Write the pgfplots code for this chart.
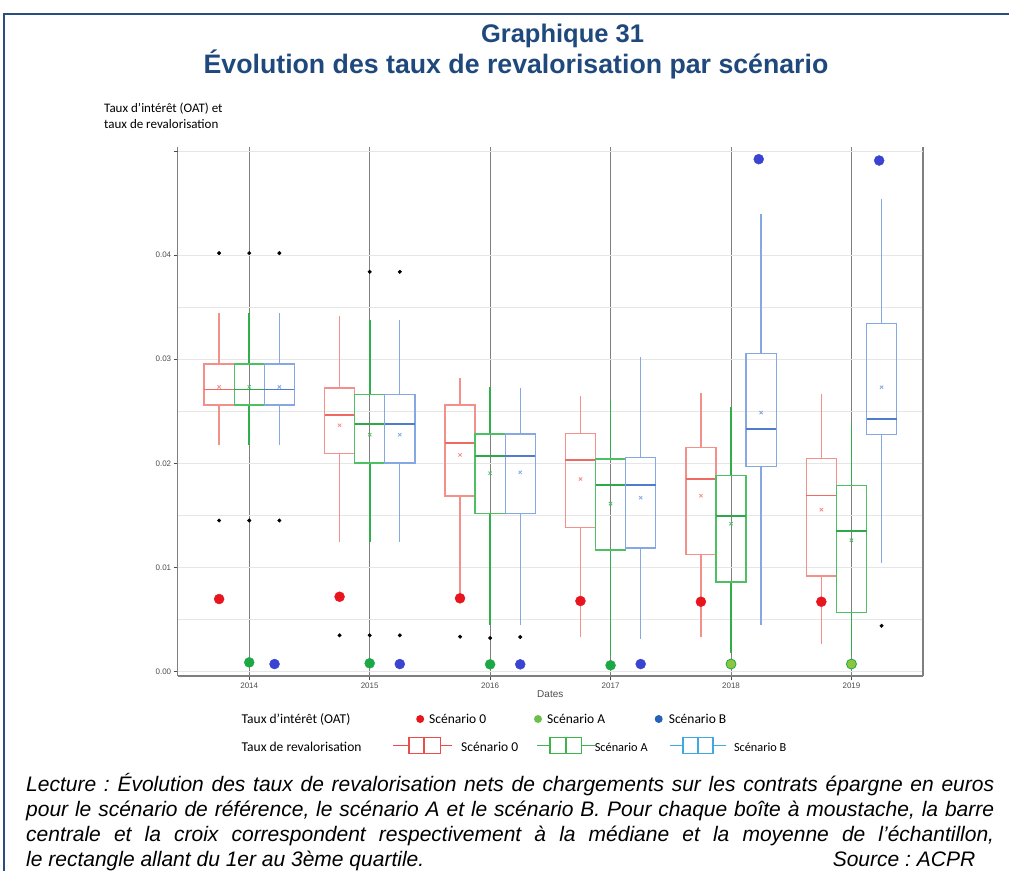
\documentclass[border=0pt]{standalone}
\usepackage{pgfplots}
\pgfplotsset{compat=1.18}
\usepgfplotslibrary{statistics}
\usepackage{fontspec}
\setmainfont{Liberation Sans}
\newfontfamily\carlito{Carlito}
\definecolor{navy}{HTML}{1F497D}
\definecolor{framec}{HTML}{2A4E7F}
\definecolor{rbox}{HTML}{F4908A}
\definecolor{rmed}{HTML}{EE6A62}
\definecolor{gbox}{HTML}{4EC063}
\definecolor{gwh}{HTML}{2FAE4A}
\definecolor{gmed}{HTML}{2FA84A}
\definecolor{bbox}{HTML}{86A8E2}
\definecolor{bmed}{HTML}{4F7CCC}
\definecolor{oatr}{HTML}{E8141E}
\definecolor{oatg}{HTML}{1DA846}
\definecolor{oatgl}{HTML}{8CC63F}
\definecolor{oatb}{HTML}{3A44D1}
\definecolor{legr}{HTML}{E8141E}
\definecolor{legg}{HTML}{6CC04A}
\definecolor{legb}{HTML}{2463B8}
\definecolor{legboxr}{HTML}{EE4B4B}
\definecolor{legboxg}{HTML}{3DB54A}
\definecolor{legboxb}{HTML}{3FA9E2}
\definecolor{tickc}{HTML}{4D4D4D}
\definecolor{axc}{HTML}{7F7F7F}
\definecolor{gridc}{HTML}{E6E6E6}

\pgfplotsset{
  sc0/.style={draw=rbox, boxplot/every median/.style={draw=rmed, line width=1.7pt}},
  scA/.style={draw=gbox, boxplot/every median/.style={draw=gmed, line width=1.7pt},
              boxplot/every whisker/.style={draw=gwh, line width=1.8pt}},
  scB/.style={draw=bbox, boxplot/every median/.style={draw=bmed, line width=1.7pt}},
}
% pos, lower whisker, Q1, median, Q3, upper whisker, style
\newcommand{\bx}[7]{%
  \addplot[#7, line width=1.3pt, forget plot,
    boxplot/draw direction=y,
    boxplot prepared={draw position=#1, lower whisker=#2, lower quartile=#3,
      median=#4, upper quartile=#5, upper whisker=#6, box extend=0.25,
      whisker extend=0}] coordinates {};}

\begin{document}
\begin{tikzpicture}[x=1pt,y=1pt]
\useasboundingbox (0,0) rectangle (1009,-870);
\draw[framec, line width=2.5pt] (4,-880) -- (4,-14) -- (1015,-14);

\node[navy, anchor=base, font=\fontsize{25.5}{30}\bfseries\selectfont] at (562.5,-42) {Graphique 31};
\node[navy, anchor=base, font=\fontsize{26.7}{30}\bfseries\selectfont] at (516,-73) {Évolution des taux de revalorisation par scénario};

\node[anchor=base west, inner sep=0, font=\carlito\fontsize{13}{15}\selectfont] at (104,-112) {Taux d’intérêt (OAT) et};
\node[anchor=base west, inner sep=0, font=\carlito\fontsize{13}{15}\selectfont] at (104,-128.5) {taux de revalorisation};

\begin{axis}[
  at={(177.7pt,-676pt)}, anchor=south west,
  width=745.3pt, height=529pt, scale only axis,
  xmin=-0.594, xmax=5.594, ymin=-0.00045, ymax=0.0504,
  axis x line*=bottom, axis y line*=left,
  axis line style={draw=axc, line width=1.5pt, -},
  xtick={0,1,2,3,4,5},
  xticklabels={2014,2015,2016,2017,2018,2019},
  extra x ticks={5.594}, extra x tick labels={},
  extra x tick style={xmajorgrids=true, major x grid style={draw=axc, line width=1.5pt}, major tick length=0pt},
  ytick={0,0.01,0.02,0.03,0.04},
  yticklabels={0.00,0.01,0.02,0.03,0.04},
  extra y ticks={0.05}, extra y tick labels={},
  scaled y ticks=false,
  /pgf/number format/assume math mode=true,
  minor y tick num=1,
  ymajorgrids, yminorgrids, xmajorgrids,
  major y grid style={draw=gridc, line width=1.2pt},
  minor y grid style={draw=gridc, line width=1.2pt},
  major x grid style={draw=axc, line width=1pt},
  tick align=outside, major tick length=4pt, minor tick length=0pt,
  tick style={draw=tickc, line width=0.8pt},
  ticklabel style={font=\fontsize{8}{9}\selectfont, text=tickc},
  xticklabel style={yshift=1pt},
  yticklabel style={xshift=1pt},
  clip=false,
]
% 2014
\bx{-0.25}{0.0218}{0.0256}{0.0271}{0.02955}{0.03445}{sc0}
\bx{0.00}{0.0218}{0.0256}{0.0271}{0.02955}{0.03445}{scA}
\bx{0.25}{0.0218}{0.0256}{0.0271}{0.02955}{0.03445}{scB}
% 2015
\bx{0.75}{0.0124}{0.02096}{0.02464}{0.02724}{0.0342}{sc0}
\bx{1.00}{0.0124}{0.02003}{0.02378}{0.02663}{0.03378}{scA}
\bx{1.25}{0.0124}{0.02003}{0.02378}{0.02663}{0.03378}{scB}
% 2016
\bx{1.75}{0.0072}{0.01686}{0.02192}{0.0256}{0.02823}{sc0}
\bx{2.00}{0.00445}{0.01516}{0.02073}{0.02282}{0.02734}{scA}
\bx{2.25}{0.00445}{0.01516}{0.02073}{0.02282}{0.02724}{scB}
% 2017
\bx{2.75}{0.00327}{0.01381}{0.02032}{0.02288}{0.02644}{sc0}
\bx{3.00}{0.0015}{0.01166}{0.01791}{0.02041}{0.0262}{scA}
\bx{3.25}{0.0031}{0.01186}{0.01791}{0.02054}{0.03019}{scB}
% 2018
\bx{3.75}{0.00327}{0.01121}{0.01846}{0.0215}{0.02673}{sc0}
\bx{4.00}{0.00173}{0.00859}{0.01496}{0.01881}{0.02544}{scA}
\bx{4.25}{0.00445}{0.01967}{0.0233}{0.03058}{0.04397}{scB}
% 2019
\bx{4.75}{0.0026}{0.00916}{0.01689}{0.02048}{0.0267}{sc0}
\bx{5.00}{0.00166}{0.00564}{0.01349}{0.01785}{0.02375}{scA}
\bx{5.25}{0.01038}{0.02275}{0.02423}{0.03342}{0.04541}{scB}

% means
\addplot[only marks, mark=x, mark size=2.3pt, draw=rbox, line width=0.8pt] coordinates {
 (-0.25,0.02734) (0.75,0.02365) (1.75,0.0208) (2.75,0.01849) (3.75,0.01688) (4.75,0.01554)};
\addplot[only marks, mark=x, mark size=2.3pt, draw=gbox, line width=0.8pt] coordinates {
 (0,0.02734) (1,0.02275) (2,0.01904) (3,0.01612) (4,0.01419) (5,0.0126)};
\addplot[only marks, mark=x, mark size=2.3pt, draw=bbox, line width=0.8pt] coordinates {
 (0.25,0.02734) (1.25,0.02275) (2.25,0.01913) (3.25,0.01669) (4.25,0.02487) (5.25,0.02731)};

% outliers
\addplot[only marks, mark=*, mark size=1.8pt, black] coordinates {
 (-0.25,0.0402) (0,0.0402) (0.25,0.0402)
 (-0.25,0.0145) (0,0.0145) (0.25,0.0145)
 (1,0.0384) (1.25,0.0384)
 (0.75,0.00346) (1,0.00346) (1.25,0.00346)
 (1.75,0.00333) (2,0.0032) (2.25,0.0033)
 (5.25,0.00438)};

% OAT
\addplot[only marks, mark=*, mark size=5pt, oatr] coordinates {
 (-0.25,0.00695) (0.75,0.00717) (1.75,0.00702) (2.75,0.00676) (3.75,0.00669) (4.75,0.00669)};
\addplot[only marks, mark=*, mark size=5pt, oatg] coordinates {
 (0,0.00086) (1,0.00077) (2,0.00067) (3,0.00058)};
\addplot[only marks, mark=*, mark size=5pt, draw=oatg, fill=oatgl, line width=0.8pt] coordinates {
 (4,0.0007) (5,0.0007)};
\addplot[only marks, mark=*, mark size=5pt, oatb] coordinates {
 (0.21,0.0007) (1.25,0.0007) (2.25,0.00067) (3.25,0.0007) (4.23,0.04923) (5.23,0.0491)};
\end{axis}

\node[anchor=base, font=\fontsize{10}{12}\selectfont, text=tickc] at (550.3,-697.5) {Dates};

% legend
\begin{scope}[font=\carlito\fontsize{13.5}{15}\selectfont]
\node[anchor=base west, inner sep=0] at (241.5,-723.5) {Taux d’intérêt (OAT)};
\fill[legr] (420.2,-719) circle (4);
\node[anchor=base west, inner sep=0] at (429,-723.5) {Scénario 0};
\fill[legg] (538,-719) circle (4);
\node[anchor=base west, inner sep=0] at (547,-723.5) {Scénario A};
\fill[legb] (658.7,-719) circle (4);
\node[anchor=base west, inner sep=0] at (668.6,-723.5) {Scénario B};

\node[anchor=base west, inner sep=0] at (241.5,-751) {Taux de revalorisation};
\begin{scope}[legboxr, line width=1.5pt]
\draw (393,-745.5) -- (408.8,-745.5) (440.4,-745.5) -- (451.9,-745.5);
\draw (408.8,-737.7) rectangle (440.4,-753.3) (424.2,-737.7) -- (424.2,-753.3);
\end{scope}
\node[anchor=base west, inner sep=0] at (461,-751) {Scénario 0};
\begin{scope}[legboxg, line width=1.5pt]
\draw (537,-745.5) -- (550,-745.5) (581.6,-745.5) -- (594.6,-745.5);
\draw (550,-737.7) rectangle (581.6,-753.3) (565.8,-737.7) -- (565.8,-753.3);
\end{scope}
\node[anchor=base west, inner sep=0, font=\carlito\fontsize{12.3}{14}\selectfont] at (594.6,-751) {Scénario A};
\begin{scope}[legboxb, line width=1.5pt]
\draw (669.8,-745.5) -- (683.2,-745.5) (713.2,-745.5) -- (725.9,-745.5);
\draw (683.2,-737.7) rectangle (713.2,-753.3) (698.2,-737.7) -- (698.2,-753.3);
\end{scope}
\node[anchor=base west, inner sep=0, font=\carlito\fontsize{12.3}{14}\selectfont] at (733.8,-751) {Scénario B};
\end{scope}

% caption
\node[anchor=base west, inner sep=0] at (26,-791) {\parbox[t]{968pt}{\fontsize{21}{25.3}\itshape\selectfont\frenchspacing\hyphenpenalty=10000
Lecture : Évolution des taux de revalorisation nets de chargements sur les contrats épargne en euros\linebreak
pour le scénario de référence, le scénario A et le scénario B. Pour chaque boîte à moustache, la barre\linebreak
centrale et la croix correspondent respectivement à la médiane et la moyenne de l’échantillon,\linebreak
le rectangle allant du 1er au 3ème quartile.\hfill Source : ACPR\hspace*{19pt}}};
\end{tikzpicture}
\end{document}
